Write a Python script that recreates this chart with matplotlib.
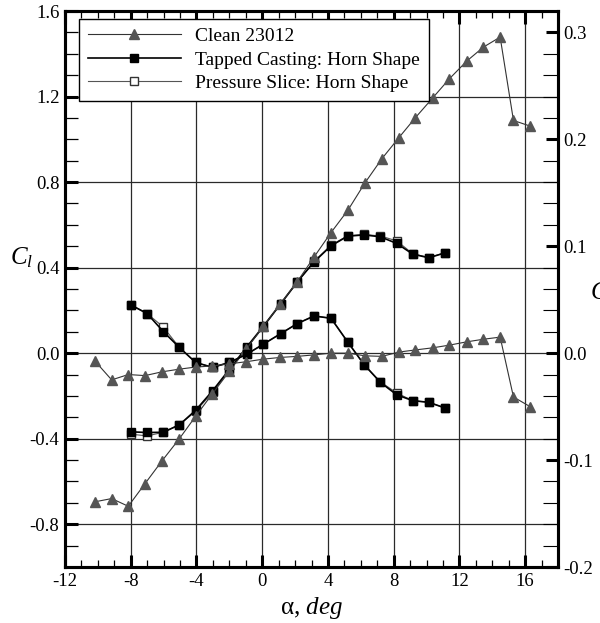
import matplotlib
matplotlib.use("Agg")
import matplotlib.pyplot as plt
from matplotlib.ticker import MultipleLocator, FormatStrFormatter
from matplotlib.lines import Line2D

plt.rcParams['font.family'] = ['Liberation Serif', 'DejaVu Serif']
plt.rcParams['mathtext.fontset'] = 'custom'
plt.rcParams['mathtext.rm'] = 'Liberation Serif'
plt.rcParams['mathtext.it'] = 'Liberation Serif:italic'
plt.rcParams['axes.unicode_minus'] = False

# ---- data ----
alpha_clean = [-10.17, -9.16, -8.15, -7.13, -6.11, -5.06, -4.05, -3.03, -2.0, -0.96,
               0.07, 1.1, 2.14, 3.16, 4.17, 5.22, 6.26, 7.29, 8.31, 9.32,
               10.38, 11.39, 12.45, 13.46, 14.48, 15.29, 16.30]
cl_clean = [-0.695, -0.680, -0.716, -0.610, -0.505, -0.402, -0.295, -0.19, -0.085, 0.02,
            0.125, 0.23, 0.335, 0.45, 0.562, 0.669, 0.797, 0.910, 1.007, 1.101,
            1.194, 1.283, 1.366, 1.431, 1.478, 1.088, 1.062]
cm_clean = [-0.0075, -0.025, -0.020, -0.021, -0.0175, -0.015, -0.013, -0.012, -0.010, -0.008,
            -0.0056, -0.004, -0.003, -0.0016, 0.0, 0.0, -0.0025, -0.003, 0.001, 0.003,
            0.005, 0.0075, 0.0106, 0.013, 0.015, -0.041, -0.050]

alpha_horn = [-7.98, -7.0, -6.02, -5.04, -4.05, -3.02, -2.0, -0.94, 0.07, 1.13,
              2.14, 3.16, 4.19, 5.2, 6.21, 7.19, 8.19, 9.16, 10.14, 11.13]
cl_tapped = [-0.368, -0.371, -0.370, -0.335, -0.267, -0.176, -0.076, 0.029, 0.126, 0.232,
             0.334, 0.427, 0.502, 0.547, 0.553, 0.544, 0.513, 0.463, 0.446, 0.469]
cm_tapped = [0.045, 0.037, 0.0202, 0.0053, -0.0087, -0.0133, -0.0087, -0.001, 0.0084, 0.0183,
             0.0277, 0.0348, 0.0326, 0.0105, -0.0109, -0.0273, -0.039, -0.0444, -0.046, -0.0513]
cl_pressure = [-0.379, -0.387, -0.370, -0.335, -0.272, -0.183, -0.080, 0.025, 0.122, 0.229,
               0.331, 0.430, 0.505, 0.549, 0.555, 0.548, 0.525, 0.465, 0.447, 0.470]
cm_pressure = [0.045, 0.037, 0.0245, 0.0053, -0.0087, -0.0133, -0.0087, -0.001, 0.0084, 0.0183,
               0.0277, 0.0348, 0.0326, 0.0105, -0.0109, -0.0268, -0.0373, -0.0444, -0.046, -0.0513]

labels = ['Clean 23012', 'Tapped Casting: Horn Shape', 'Pressure Slice: Horn Shape']

# ---- figure ----
fig = plt.figure(figsize=(6.0, 6.23), dpi=100)
ax = fig.add_axes([65/600, 56/623, 493/600, 556/623])
ax2 = ax.twinx()

gray = '#555555'
clean_kw = dict(color='#333333', lw=0.8, marker='^', ms=6.5, mfc=gray, mec=gray)
tap_kw = dict(color='black', lw=1.2, marker='s', ms=5.5, mfc='black', mec='black')
pre_kw = dict(color='#555555', lw=0.8, marker='s', ms=5.5, mfc='white', mec='#333333')

ax.plot(alpha_horn, cl_pressure, **pre_kw, zorder=3)
ax.plot(alpha_horn, cl_tapped, **tap_kw, zorder=4)
ax.plot(alpha_clean, cl_clean, **clean_kw, zorder=5)

ax2.plot(alpha_horn, cm_pressure, **pre_kw, zorder=3)
ax2.plot(alpha_horn, cm_tapped, **tap_kw, zorder=4)
ax2.plot(alpha_clean, cm_clean, **clean_kw, zorder=5)

ax.set_xlim(-12, 18)
ax.set_ylim(-1.0, 1.6)
ax2.set_ylim(-0.2, 0.32)

ax.xaxis.set_major_locator(MultipleLocator(4))
ax.xaxis.set_minor_locator(MultipleLocator(1))
ax.yaxis.set_major_locator(MultipleLocator(0.4))
ax.yaxis.set_minor_locator(MultipleLocator(0.1))
ax.yaxis.set_major_formatter(FormatStrFormatter('%.1f'))
ax2.yaxis.set_major_locator(MultipleLocator(0.1))
ax2.yaxis.set_minor_locator(MultipleLocator(0.02))
ax2.yaxis.set_major_formatter(FormatStrFormatter('%.1f'))

ax.grid(which='major', color='#2a2a2a', lw=0.9)
ax.set_axisbelow(True)

ax.tick_params(axis='both', which='both', direction='in', labelsize=13.5, pad=4)
ax.tick_params(axis='x', top=True, which='both')
ax.tick_params(axis='y', right=False, which='both')
ax.tick_params(which='major', length=9, width=2.2)
ax.tick_params(axis='x', which='minor', length=5, width=0.9)
ax.tick_params(axis='y', which='minor', length=9, width=0.9)
ax2.tick_params(axis='y', which='both', direction='in', labelsize=13.5, pad=4)
ax2.tick_params(axis='y', which='major', length=9, width=2.2)
ax2.tick_params(axis='y', which='minor', length=11, width=0.8)

for a in (ax, ax2):
    for s in a.spines.values():
        s.set_linewidth(2.2)

ax.set_xlabel('α, $\\mathit{deg}$', fontsize=18, labelpad=4)
fig.text(22/600, 1 - 258/623, '$C_l$', fontsize=18, ha='center', va='center')
fig.text(590/600, 1 - 293/623, '$C_m$', fontsize=18, ha='left', va='center')

h_clean = Line2D([], [], **clean_kw)
h_tap = Line2D([], [], **tap_kw)
h_pre = Line2D([], [], **pre_kw)
leg = ax2.legend([h_clean, h_tap, h_pre], labels, loc='upper left',
                 bbox_to_anchor=(0.028, 0.986), fontsize=14, frameon=True,
                 fancybox=False, framealpha=1, edgecolor='black', numpoints=1,
                 handlelength=4.8, handletextpad=0.75, borderpad=0.45,
                 labelspacing=0.3, borderaxespad=0)
leg.get_frame().set_linewidth(1.0)
leg.set_zorder(10)

fig.savefig('out.png', dpi=100)
